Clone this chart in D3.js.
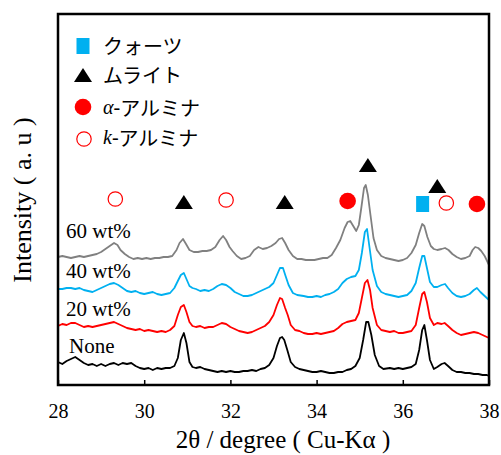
<!DOCTYPE html>
<html>
<head>
<meta charset="utf-8">
<script src="https://cdn.jsdelivr.net/npm/d3@7"></script>
<style>
  body { margin: 0; background: #fff; }
</style>
</head>
<body>
<svg id="chart" width="501" height="455"></svg>
<script>
// XRD patterns, [2theta (deg), intensity (a.u., offset per sample)]
const seriesNames = ['None', '20 wt%', '40 wt%', '60 wt%'];
const seriesColors = ['#000000', '#ff0000', '#00b0f0', '#808080'];

const patternNone = [
  [28.00,23],[28.10,21],[28.20,24],[28.30,26],[28.40,28],[28.50,25],[28.60,22],[28.70,20],[28.80,21],[28.90,19],
  [29.00,21],[29.10,19],[29.20,21],[29.30,22],[29.40,20],[29.50,22],[29.60,21],[29.70,22],[29.80,19],[29.90,17],
  [30.00,16],[30.10,17],[30.20,15],[30.30,17],[30.40,16],[30.50,17],[30.60,17],[30.70,19],[30.78,27],[30.85,45],
  [30.92,52],[30.98,42],[31.05,23],[31.12,18],[31.20,17],[31.30,18],[31.40,16],[31.50,15],[31.60,14],[31.70,13],
  [31.80,14],[31.90,13],[32.00,14],[32.10,13],[32.20,13],[32.30,14],[32.40,14],[32.50,15],[32.60,14],[32.70,16],
  [32.80,17],[32.90,20],[33.00,27],[33.08,39],[33.15,47],[33.20,48],[33.25,45],[33.32,35],[33.40,23],[33.50,18],
  [33.60,16],[33.70,15],[33.80,14],[33.90,13],[34.00,13],[34.10,14],[34.20,13],[34.30,12],[34.40,12],[34.50,13],
  [34.60,13],[34.70,15],[34.80,16],[34.90,19],[35.00,27],[35.08,45],[35.15,63],[35.20,63],[35.27,50],[35.35,30],
  [35.45,19],[35.55,16],[35.70,17],[35.80,16],[35.90,17],[36.00,16],[36.10,17],[36.20,18],[36.30,21],[36.38,35],
  [36.45,55],[36.50,60],[36.56,45],[36.63,25],[36.72,16],[36.80,18],[36.90,21],[36.97,22],[37.05,19],[37.15,15],
  [37.25,13],[37.35,13],[37.45,12],[37.55,12],[37.65,11],[37.75,11],[37.85,10],[37.95,10],[38.00,9]
];

const pattern20 = [
  [28.00,59],[28.10,61],[28.20,60],[28.30,62],[28.40,62],[28.50,60],[28.60,58],[28.70,59],[28.80,58],[28.90,59],
  [29.00,60],[29.10,61],[29.20,62],[29.30,63],[29.40,61],[29.50,59],[29.60,57],[29.70,56],[29.80,55],[29.90,56],
  [30.00,54],[30.10,55],[30.20,54],[30.30,53],[30.40,54],[30.50,53],[30.60,55],[30.70,59],[30.78,70],[30.85,78],
  [30.92,80],[30.98,73],[31.05,63],[31.12,59],[31.20,58],[31.30,59],[31.40,57],[31.50,58],[31.60,58],[31.70,60],
  [31.80,62],[31.90,61],[32.00,58],[32.10,56],[32.20,54],[32.30,53],[32.40,52],[32.50,53],[32.60,55],[32.70,57],
  [32.80,59],[32.90,63],[33.00,70],[33.08,80],[33.15,87],[33.20,86],[33.27,77],[33.33,70],[33.40,60],[33.50,55],
  [33.60,54],[33.70,52],[33.80,51],[33.90,51],[34.00,52],[34.10,51],[34.20,52],[34.30,53],[34.40,54],[34.50,57],
  [34.60,61],[34.70,63],[34.80,64],[34.90,65],[34.98,72],[35.05,87],[35.12,102],[35.18,105],[35.24,95],[35.30,77],
  [35.40,60],[35.50,55],[35.60,54],[35.70,53],[35.80,54],[35.90,52],[36.00,52],[36.10,53],[36.20,54],[36.30,60],
  [36.38,77],[36.45,91],[36.50,93],[36.56,83],[36.63,67],[36.72,60],[36.80,62],[36.90,61],[36.97,62],[37.05,59],
  [37.15,55],[37.25,52],[37.35,50],[37.45,51],[37.55,52],[37.65,53],[37.75,52],[37.85,50],[37.95,48],[38.00,47]
];

const pattern40 = [
  [28.00,96],[28.10,96],[28.20,97],[28.30,97],[28.40,96],[28.50,97],[28.60,95],[28.70,94],[28.80,93],[28.90,95],
  [29.00,97],[29.10,99],[29.20,101],[29.30,102],[29.40,100],[29.50,97],[29.60,94],[29.70,93],[29.80,94],[29.90,92],
  [30.00,91],[30.10,92],[30.20,93],[30.30,91],[30.40,90],[30.50,91],[30.60,92],[30.70,97],[30.78,104],[30.85,110],
  [30.92,112],[30.98,106],[31.05,99],[31.12,97],[31.20,96],[31.30,94],[31.40,95],[31.50,94],[31.60,96],[31.70,99],
  [31.80,101],[31.90,100],[32.00,97],[32.10,93],[32.20,91],[32.30,89],[32.40,89],[32.50,90],[32.60,92],[32.70,94],
  [32.80,96],[32.90,98],[33.00,102],[33.08,110],[33.15,117],[33.22,117],[33.28,109],[33.35,100],[33.45,92],[33.55,90],
  [33.70,89],[33.80,88],[33.90,88],[34.00,89],[34.10,88],[34.20,90],[34.30,91],[34.40,93],[34.50,96],[34.60,102],
  [34.70,106],[34.80,108],[34.90,109],[34.98,115],[35.05,132],[35.12,153],[35.17,156],[35.22,140],[35.30,115],[35.40,99],
  [35.50,93],[35.60,91],[35.70,90],[35.80,89],[35.90,88],[36.00,89],[36.10,90],[36.20,94],[36.30,102],[36.38,117],
  [36.45,129],[36.50,129],[36.56,117],[36.63,103],[36.72,98],[36.80,98],[36.90,100],[36.98,101],[37.05,97],[37.15,92],
  [37.25,89],[37.35,88],[37.45,89],[37.55,91],[37.65,95],[37.72,97],[37.80,93],[37.90,89],[38.00,85]
];

const pattern60 = [
  [28.00,128],[28.10,129],[28.20,128],[28.30,127],[28.40,128],[28.50,129],[28.60,128],[28.70,129],[28.80,130],[28.90,131],
  [29.00,133],[29.10,136],[29.20,139],[29.30,142],[29.38,140],[29.45,135],[29.55,131],[29.65,128],[29.75,126],[29.85,127],
  [29.95,126],[30.05,127],[30.15,126],[30.25,127],[30.35,127],[30.45,128],[30.55,128],[30.65,129],[30.75,135],[30.82,142],
  [30.90,146],[30.97,141],[31.05,135],[31.15,133],[31.25,133],[31.35,134],[31.45,134],[31.55,135],[31.65,138],[31.75,145],
  [31.83,149],[31.90,145],[31.98,138],[32.05,134],[32.15,129],[32.25,126],[32.35,127],[32.45,129],[32.55,135],[32.65,138],
  [32.75,136],[32.85,137],[32.95,139],[33.05,142],[33.13,146],[33.20,147],[33.27,142],[33.35,135],[33.45,129],[33.55,126],
  [33.65,126],[33.75,125],[33.85,125],[33.95,125],[34.05,126],[34.15,127],[34.25,127],[34.35,130],[34.45,137],[34.55,145],
  [34.65,157],[34.72,163],[34.78,164],[34.85,159],[34.92,154],[34.98,160],[35.04,178],[35.10,197],[35.14,200],[35.19,190],
  [35.25,170],[35.32,147],[35.40,135],[35.50,129],[35.60,127],[35.70,126],[35.80,125],[35.90,124],[36.00,125],[36.10,127],
  [36.20,132],[36.30,140],[36.38,152],[36.45,161],[36.50,159],[36.57,148],[36.65,139],[36.72,136],[36.80,135],[36.90,136],
  [36.98,137],[37.06,135],[37.15,131],[37.25,128],[37.35,126],[37.45,127],[37.55,129],[37.62,135],[37.68,138],[37.75,137],
  [37.82,134],[37.90,129],[38.00,120]
];

const patterns = [patternNone, pattern20, pattern40, pattern60];

// phase markers above peaks: [2theta, level (a.u.)]
const quartzPeaks = [[36.46, 181]];
const mullitePeaks = [[30.92, 183], [33.26, 183], [35.19, 220], [36.80, 199]];
const alphaPeaks = [[34.72, 184], [37.72, 181]];
const kappaPeaks = [[29.33, 186], [31.90, 185], [37.01, 182]];

const xTicks = [28, 30, 32, 34, 36, 38];

const serif = '"Liberation Serif", "Times New Roman", serif';
const jp = '"Noto Sans CJK JP", sans-serif';

const svg = d3.select('#chart');
const plot = {left: 58, right: 489, top: 14, bottom: 385};

const x = d3.scaleLinear().domain([28, 38]).range([plot.left, plot.right]);
const y = d3.scaleLinear().domain([0, 371]).range([plot.bottom, plot.top]);

svg.append('clipPath').attr('id', 'clip')
  .append('rect')
  .attr('x', plot.left).attr('y', plot.top)
  .attr('width', plot.right - plot.left).attr('height', plot.bottom - plot.top);

// traces
const line = d3.line().x(d => x(d[0])).y(d => y(d[1]));
svg.append('g').attr('clip-path', 'url(#clip)')
  .selectAll('path').data(patterns)
  .enter().append('path')
  .attr('d', d => line(d))
  .attr('fill', 'none')
  .attr('stroke', (d, i) => seriesColors[i])
  .attr('stroke-width', 1.8)
  .attr('stroke-linejoin', 'round');

// sample labels
const labelPos = [[69, 353], [66, 316], [66, 278], [66, 238]];
svg.append('g').selectAll('text').data(seriesNames)
  .enter().append('text')
  .attr('x', (d, i) => labelPos[i][0])
  .attr('y', (d, i) => labelPos[i][1])
  .attr('font-family', serif).attr('font-size', 21)
  .text(d => d);

// marker drawing helpers
function drawSquare(g, cx, cy) {
  g.append('rect').attr('x', cx - 6.5).attr('y', cy - 8).attr('width', 13).attr('height', 16)
    .attr('fill', '#00b0f0');
}
function drawTriangle(g, cx, cy) {
  g.append('path').attr('d', 'M0,-7L9,7L-9,7Z')
    .attr('transform', `translate(${cx},${cy})`).attr('fill', '#000');
}
function drawDot(g, cx, cy) {
  g.append('circle').attr('cx', cx).attr('cy', cy).attr('r', 8.3).attr('fill', '#ff0000');
}
function drawRing(g, cx, cy) {
  g.append('circle').attr('cx', cx).attr('cy', cy).attr('r', 7.2)
    .attr('fill', '#fff').attr('stroke', '#ff0000').attr('stroke-width', 1.2);
}

const marks = svg.append('g');
quartzPeaks.forEach(d => drawSquare(marks, x(d[0]), y(d[1])));
mullitePeaks.forEach(d => drawTriangle(marks, x(d[0]), y(d[1])));
alphaPeaks.forEach(d => drawDot(marks, x(d[0]), y(d[1])));
kappaPeaks.forEach(d => drawRing(marks, x(d[0]), y(d[1])));

// legend
const legend = svg.append('g');
drawSquare(legend, 83, 46);
drawTriangle(legend, 83, 75);
drawDot(legend, 83, 107);
drawRing(legend, 84, 139);

const legendText = (yy) => legend.append('text').attr('x', 103).attr('y', yy)
  .attr('dominant-baseline', 'central').attr('font-size', 20);

legendText(45).append('tspan').attr('font-family', jp).text('クォーツ');
legendText(74).append('tspan').attr('font-family', jp).text('ムライト');
const la = legendText(107);
la.append('tspan').attr('font-family', serif).attr('font-style', 'italic').text('α');
la.append('tspan').attr('font-family', serif).text('-');
la.append('tspan').attr('font-family', jp).text('アルミナ');
const lk = legendText(137);
lk.append('tspan').attr('font-family', serif).attr('font-style', 'italic').text('k');
lk.append('tspan').attr('font-family', serif).text('-');
lk.append('tspan').attr('font-family', jp).text('アルミナ');

// x axis (ticks inside, labels below)
const xAxis = svg.append('g')
  .attr('transform', `translate(0,${plot.bottom})`)
  .call(d3.axisBottom(x).tickValues(xTicks).tickSizeInner(-5).tickSizeOuter(0).tickFormat(d3.format('d')));
xAxis.select('.domain').remove();
xAxis.selectAll('line').attr('stroke', '#000').attr('stroke-width', 1.5);
xAxis.selectAll('text')
  .attr('y', 33).attr('dy', null)
  .attr('font-family', serif).attr('font-size', 20).attr('fill', '#000');

// frame
svg.append('rect')
  .attr('x', plot.left).attr('y', plot.top)
  .attr('width', plot.right - plot.left).attr('height', plot.bottom - plot.top)
  .attr('fill', 'none').attr('stroke', '#000').attr('stroke-width', 2.5);

// axis titles
svg.append('text')
  .attr('x', 283).attr('y', 448)
  .attr('text-anchor', 'middle')
  .attr('font-family', serif).attr('font-size', 25)
  .text('2θ / degree ( Cu-Kα )');

svg.append('text')
  .attr('transform', 'translate(31,200) rotate(-90)')
  .attr('text-anchor', 'middle')
  .attr('font-family', serif).attr('font-size', 26)
  .text('Intensity ( a. u )');
</script>
</body>
</html>
